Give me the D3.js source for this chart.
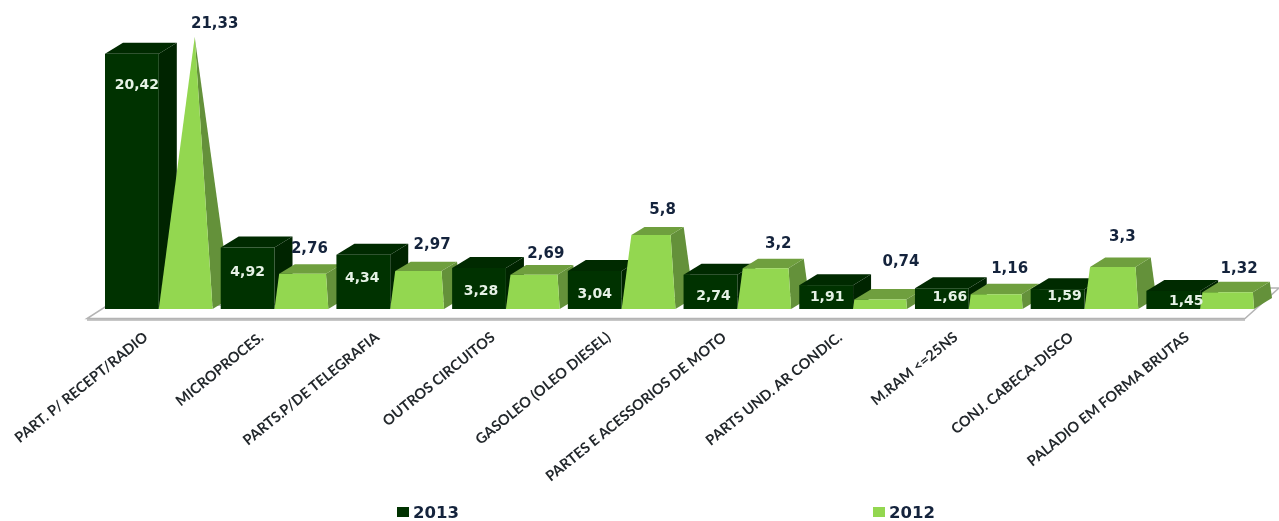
<!doctype html>
<html>
  <head>
    <title>Exportacoes 2013 / 2012</title>
    <style>
      * { margin: 0; padding: 0; box-sizing: border-box; }
      body { background: #fff; overflow: hidden; }
      svg { display: block; filter: blur(0.4px); }
      .value { font: bold 15px "DejaVu Sans"; text-anchor: middle; dominant-baseline: central; }
      .value.dark { font-size: 14px; }
      .cat text { font: bold 14.5px Lato; fill: #23282c; }
      .legend { font: bold 16.5px "DejaVu Sans"; fill: #14233c; }
    </style>
    <script src="https://cdnjs.cloudflare.com/ajax/libs/d3/7.8.5/d3.min.js"></script>
  </head>
  <body>
    <script>
      var categories = ["PART. P/ RECEPT/RADIO", "MICROPROCES.", "PARTS.P/DE TELEGRAFIA", "OUTROS CIRCUITOS",
        "GASOLEO (OLEO DIESEL)", "PARTES E ACESSORIOS DE MOTO", "PARTS UND. AR CONDIC.", "M.RAM <=25NS",
        "CONJ. CABECA-DISCO", "PALADIO EM FORMA BRUTAS"];
      var values2013 = [20.42, 4.92, 4.34, 3.28, 3.04, 2.74, 1.91, 1.66, 1.59, 1.45];
      var values2012 = [21.33, 2.76, 2.97, 2.69, 5.8, 3.2, 0.74, 1.16, 3.3, 1.32];
      var seriesNames = ["2013", "2012"];

      var width = 1279, height = 521;
      var baseY = 309;
      var depthX = 18, depthY = 11;
      var colors2013 = { front: "#003200", top: "#002a00", side: "#002400" };
      var colors2012 = { front: "#93d750", top: "#6f9f3e", side: "#64913a" };

      // label tweaks, the source chart placed these by hand
      var darkLabelDx = [0, -5, -6, -3, -5, -2, -4, 3, 2, 8];
      var darkLabelDy = [8, 1, 0, 0, 0, -1, 0, 0, -1, 4];
      var lightLabelDx = [16, -5, 2, 0, 1, 1, 8, 1, -2, -1];
      var lightLabelDy = [12, 0, -1, 4, 0, 1, -13, 0, -5, 2];

      var x0 = d3.scaleBand().domain(d3.range(categories.length)).range([105, 1254]).paddingInner(0.07).paddingOuter(0);
      var x1 = d3.scaleBand().domain(seriesNames).range([0, x0.bandwidth()]);
      var y = d3.scaleLinear().domain([0, 21.33]).range([baseY, baseY - 21.33 * 12.5]);

      var svg = d3.select("body").append("svg").attr("width", width).attr("height", height);

      function pts(list) { return list.map(function (p) { return p.join(","); }).join(" "); }

      // floor
      svg.append("polygon")
        .attr("points", pts([[87, 318.5], [1245, 318.5], [1279, 288], [1270, 288], [105, 307]]))
        .attr("fill", "#fff").attr("stroke", "#b4b4b4").attr("stroke-width", 1.5);
      svg.append("line").attr("x1", 87).attr("x2", 1245).attr("y1", 320).attr("y2", 320)
        .attr("stroke", "#8f8f8f").attr("stroke-width", 1);

      var vmax = d3.max(values2012);
      var w = x1.bandwidth();
      var marks = svg.append("g");

      categories.forEach(function (c, i) {
        var g = marks.append("g");

        // 2013 is a plain box
        var a = x0(i) + x1("2013"), b = a + w, t = y(values2013[i]);
        g.append("polygon").attr("fill", colors2013.side)
          .attr("points", pts([[b, baseY], [b + depthX, baseY - depthY], [b + depthX, t - depthY], [b, t]]));
        g.append("polygon").attr("fill", colors2013.top)
          .attr("points", pts([[a, t], [a + depthX, t - depthY], [b + depthX, t - depthY], [b, t]]));
        g.append("rect").attr("x", a).attr("y", t).attr("width", w).attr("height", baseY - t)
          .attr("fill", colors2013.front);

        // 2012 is a pyramid cut off at its value, the tallest one keeps its apex
        var l = x0(i) + x1("2012"), r = l + w;
        var apex = [l + w / 2 + depthX / 2, y(vmax) - depthY / 2];
        var k = values2012[i] / vmax;
        function cut(p) { return [p[0] + (apex[0] - p[0]) * k, p[1] + (apex[1] - p[1]) * k]; }
        var fl = [l, baseY], fr = [r, baseY], br = [r + depthX, baseY - depthY], bl = [l + depthX, baseY - depthY];
        g.append("polygon").attr("fill", colors2012.side).attr("points", pts([fr, br, cut(br), cut(fr)]));
        g.append("polygon").attr("fill", colors2012.top).attr("points", pts([cut(fl), cut(bl), cut(br), cut(fr)]));
        g.append("polygon").attr("fill", colors2012.front).attr("points", pts([fl, fr, cut(fr), cut(fl)]));
      });

      // value labels
      categories.forEach(function (c, i) {
        var lbl = function (v) { return String(v).replace(".", ","); };
        svg.append("text").attr("class", "value dark").attr("fill", "#e6f2e6")
          .attr("x", x0(i) + x1("2013") + w / 2 + 5 + darkLabelDx[i])
          .attr("y", Math.min(y(values2013[i]) + 22, 296) + darkLabelDy[i])
          .text(lbl(values2013[i]));
        var k = values2012[i] / vmax;
        var cx = x0(i) + x1("2012") + w / 2;
        svg.append("text").attr("class", "value").attr("fill", "#14233c")
          .attr("x", cx + 13 + lightLabelDx[i])
          .attr("y", baseY - k * (baseY - y(vmax) + depthY / 2) - 26 + lightLabelDy[i])
          .text(lbl(values2012[i]));
      });

      // category labels
      var axis = d3.axisBottom(d3.scaleBand().domain(categories).range([105, 1254]).paddingInner(0.07).paddingOuter(0))
        .tickSize(0).tickPadding(0);
      var axisG = svg.append("g").attr("class", "cat").attr("transform", "translate(0,339)").call(axis);
      axisG.select(".domain").remove();
      axisG.selectAll("text")
        .attr("y", 0).attr("dy", 0)
        .attr("text-anchor", "end")
        .attr("transform", "translate(-10,0) rotate(-39)");

      // legend
      var legendX = d3.scalePoint().domain(seriesNames).range([397, 873]);
      seriesNames.forEach(function (s, i) {
        var lg = svg.append("g").attr("transform", "translate(" + legendX(s) + ",507)");
        lg.append("rect").attr("width", 12).attr("height", 10).attr("fill", i == 0 ? colors2013.front : colors2012.front);
        lg.append("text").attr("class", "legend").attr("x", 16).attr("y", 11).text(s);
      });
    </script>
  </body>
</html>
